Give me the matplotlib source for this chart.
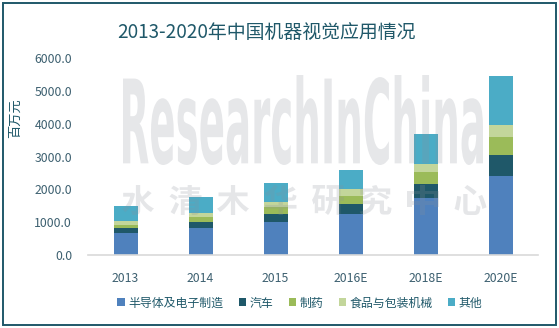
import matplotlib
matplotlib.use("Agg")
import matplotlib.pyplot as plt
import numpy as np
from matplotlib.textpath import TextPath
from matplotlib.patches import PathPatch, Rectangle
from matplotlib.font_manager import FontProperties
from matplotlib.transforms import Affine2D

plt.rcParams['font.family'] = ['Noto Sans CJK SC', 'DejaVu Sans']

years = ["2013", "2014", "2015", "2016E", "2018E", "2020E"]
series_names = ["半导体及电子制造", "汽车", "制药", "食品与包装机械", "其他"]
semiconductor = [670, 820, 1005, 1250, 1735, 2405]
automotive = [150, 185, 245, 305, 425, 640]
pharma = [90, 150, 215, 245, 365, 550]
food_packaging = [120, 120, 150, 215, 245, 365]
other = [460, 490, 580, 580, 915, 1490]
yticks = [0, 1000, 2000, 3000, 4000, 5000, 6000]

colors = ["#4F81BD", "#1F5869", "#9BBB59", "#C3D69B", "#4BACC6"]
text_color = "#1F5869"
tick_color = "#3D6070"

W, H = 559, 328
fig = plt.figure(figsize=(W / 100, H / 100), dpi=100)
fig.patch.set_facecolor("white")

def px_box(x0, y0, x1, y1):
    return [x0 / W, 1 - y1 / H, (x1 - x0) / W, (y1 - y0) / H]

ax = fig.add_axes(px_box(88, 58, 538, 255))
x = np.arange(len(years))
bottom = np.zeros(len(years))
for name, vals, c in zip(series_names,
                         [semiconductor, automotive, pharma, food_packaging, other],
                         colors):
    ax.bar(x, vals, width=0.32, bottom=bottom, color=c, label=name, zorder=2)
    bottom += np.array(vals)

ax.set_xlim(-0.5, len(years) - 0.5)
ax.set_ylim(0, 6000)
ax.set_yticks(yticks)
ax.set_yticklabels([f"{v:.1f}" for v in yticks])
ax.set_xticks(x)
ax.set_xticklabels(years)
ax.tick_params(axis="y", length=0, pad=11.5, labelsize=8.8, labelcolor=tick_color)
ax.tick_params(axis="x", length=0, pad=12, labelsize=8.8, labelcolor=tick_color)
for s in ["top", "right", "left"]:
    ax.spines[s].set_visible(False)
ax.spines["bottom"].set_color("#D9D9D9")
ax.spines["bottom"].set_linewidth(1.2)
ax.set_facecolor("none")

fig.text(15 / W, 1 - 118 / H, "百万元", rotation=90, ha="center", va="center",
         fontsize=9.5, color=text_color)

fig.text(266.5 / W, 1 - 32 / H, "2013-2020年中国机器视觉应用情况", ha="center",
         va="center", fontsize=13.6, color=text_color)

# Watermark drawn over the plot in translucent grey
def boxed_text(s, prop, x0, y0, x1, y1, color, alpha):
    tp = TextPath((0, 0), s, size=100, prop=prop)
    ext = tp.get_extents()
    sx = (x1 - x0) / ext.width
    sy = (y1 - y0) / ext.height
    tr = (Affine2D().translate(-ext.x0, -ext.y0).scale(sx, sy)
          .translate(x0, H - y1))
    path = tr.transform_path(tp)
    patch = PathPatch(path, facecolor=color, edgecolor="none", alpha=alpha,
                      transform=Affine2D().scale(1 / W, 1 / H) + fig.transFigure,
                      zorder=10)
    fig.add_artist(patch)

wm_color = "#8A8F99"
boxed_text("ResearchInChina", FontProperties(family="DejaVu Sans", weight="bold"),
           123, 75, 483, 165, wm_color, 0.21)
wm_chars = "水清木华研究中心"
for i, ch in enumerate(wm_chars):
    cx = 138 + i * 47.5
    boxed_text(ch, FontProperties(family="Noto Sans CJK SC", weight="black"),
               cx - 16, 185, cx + 16, 215, wm_color, 0.22)

handles, labels = ax.get_legend_handles_labels()
leg = fig.legend(handles, labels, loc="center", bbox_to_anchor=(300 / W, 1 - 303 / H),
                 ncol=5, frameon=False, fontsize=8.6, handlelength=0.6,
                 handleheight=0.6, handletextpad=0.3, columnspacing=1.3,
                 labelcolor=text_color)

border = Rectangle((2.5 / W, 3 / H), (W - 5.5) / W, (H - 5.5) / H,
                   transform=fig.transFigure, fill=False, edgecolor="#1F5869",
                   linewidth=1.4, zorder=20)
fig.add_artist(border)

fig.savefig("out.png", dpi=100, facecolor="white")
